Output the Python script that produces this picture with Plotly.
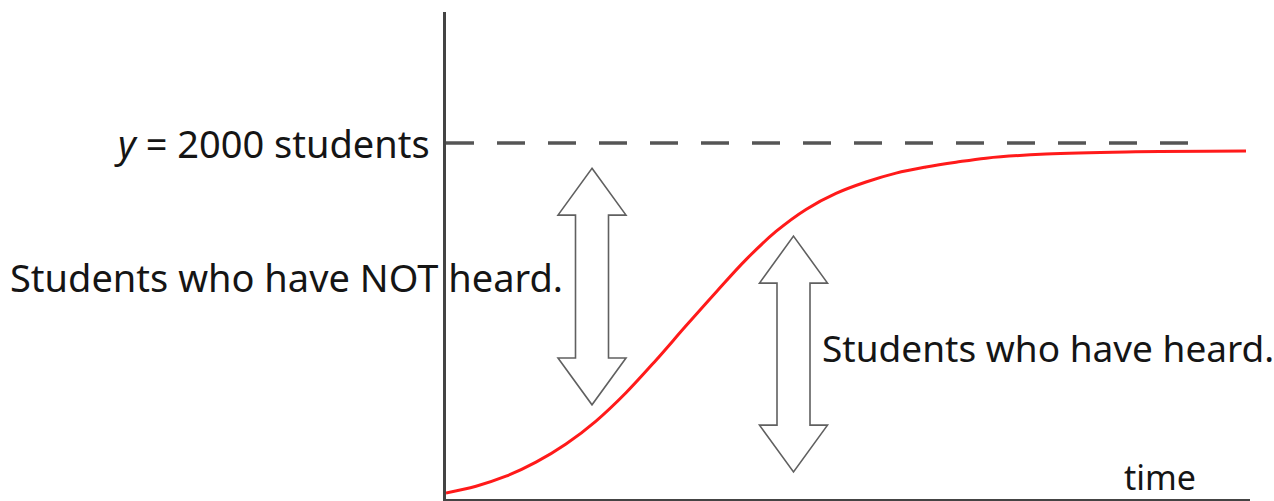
import plotly.graph_objects as go

# Data: logistic growth of students who have heard
time_vals = [0, 0.3, 0.6, 0.9, 1.2, 1.5, 1.8, 2.1, 2.4, 2.7, 3.0, 3.3, 3.6, 3.9,
             4.2, 4.5, 4.8, 5.1, 5.4, 6.0, 6.8, 8.0]
heard_vals = [34, 72, 128, 207, 309, 438, 597, 780, 973, 1162, 1345, 1503, 1627, 1717,
              1781, 1831, 1865, 1892, 1915, 1938, 1950, 1955]
capacity = 2000
dash_end = 7.54

X_MAX = 8.04
Y_MAX = 2736

FONT = "Noto Sans"
PLOT_L, PLOT_R = 446, 1250
PLOT_T, PLOT_B = 12, 499


def px_to_paper_x(px):
    return (px - PLOT_L) / (PLOT_R - PLOT_L)


def px_to_paper_y(py):
    return (PLOT_B - py) / (PLOT_B - PLOT_T)


fig = go.Figure()

# Carrying capacity dashed line
fig.add_trace(go.Scatter(x=[0, dash_end], y=[capacity, capacity], mode="lines",
                         line=dict(color="#555555", width=3.5, dash="28px,23px"),
                         hoverinfo="skip", showlegend=False))

# Logistic curve
fig.add_trace(go.Scatter(x=time_vals, y=heard_vals, mode="lines",
                         line=dict(color="#ff1a1a", width=3, shape="spline", smoothing=1.0),
                         showlegend=False))


def double_arrow(cx, y_top, y_head_top, y_head_bot, y_bot, hw=0.34, sw=0.165):
    pts = [(cx, y_top), (cx + hw, y_head_top), (cx + sw, y_head_top),
           (cx + sw, y_head_bot), (cx + hw, y_head_bot), (cx, y_bot),
           (cx - hw, y_head_bot), (cx - sw, y_head_bot), (cx - sw, y_head_top),
           (cx - hw, y_head_top)]
    return "M " + " L ".join(f"{a},{b}" for a, b in pts) + " Z"


fig.add_shape(type="path", path=double_arrow(1.46, 1858, 1595, 792, 529),
              line=dict(color="#606060", width=1.6), fillcolor="white", layer="above")
fig.add_shape(type="path", path=double_arrow(3.475, 1477, 1213, 415, 152),
              line=dict(color="#606060", width=1.6), fillcolor="white", layer="above")

ink = "#151515"
fig.add_annotation(xref="paper", x=px_to_paper_x(432), y=capacity,
                   text="<i>y</i> = 2000 students", showarrow=False,
                   xanchor="right", yanchor="middle",
                   font=dict(family=FONT, size=38, color=ink))
fig.add_annotation(xref="paper", x=px_to_paper_x(8), y=1247,
                   text="Students who have NOT heard.", showarrow=False,
                   xanchor="left", yanchor="middle",
                   font=dict(family=FONT, size=38, color=ink))
fig.add_annotation(xref="paper", x=px_to_paper_x(820), y=853,
                   text="Students who have heard.", showarrow=False,
                   xanchor="left", yanchor="middle",
                   font=dict(family=FONT, size=37, color=ink))
fig.add_annotation(xref="paper", x=px_to_paper_x(1160), yref="paper", y=px_to_paper_y(477),
                   text="time", showarrow=False,
                   xanchor="center", yanchor="middle",
                   font=dict(family=FONT, size=34, color=ink))

fig.update_xaxes(range=[0, X_MAX], showgrid=False, zeroline=False, showticklabels=False,
                 ticks="", showline=True, linecolor="#444444", linewidth=2.5)
fig.update_yaxes(range=[0, Y_MAX], showgrid=False, zeroline=False, showticklabels=False,
                 ticks="", showline=True, linecolor="#444444", linewidth=2.5)

fig.update_layout(width=1274, height=501, plot_bgcolor="white", paper_bgcolor="white",
                  margin=dict(l=PLOT_L, r=1274 - PLOT_R, t=PLOT_T, b=501 - PLOT_B),
                  showlegend=False)

fig.write_html("out.html", config={"displayModeBar": False},
               post_script="document.body.style.margin='0';")
